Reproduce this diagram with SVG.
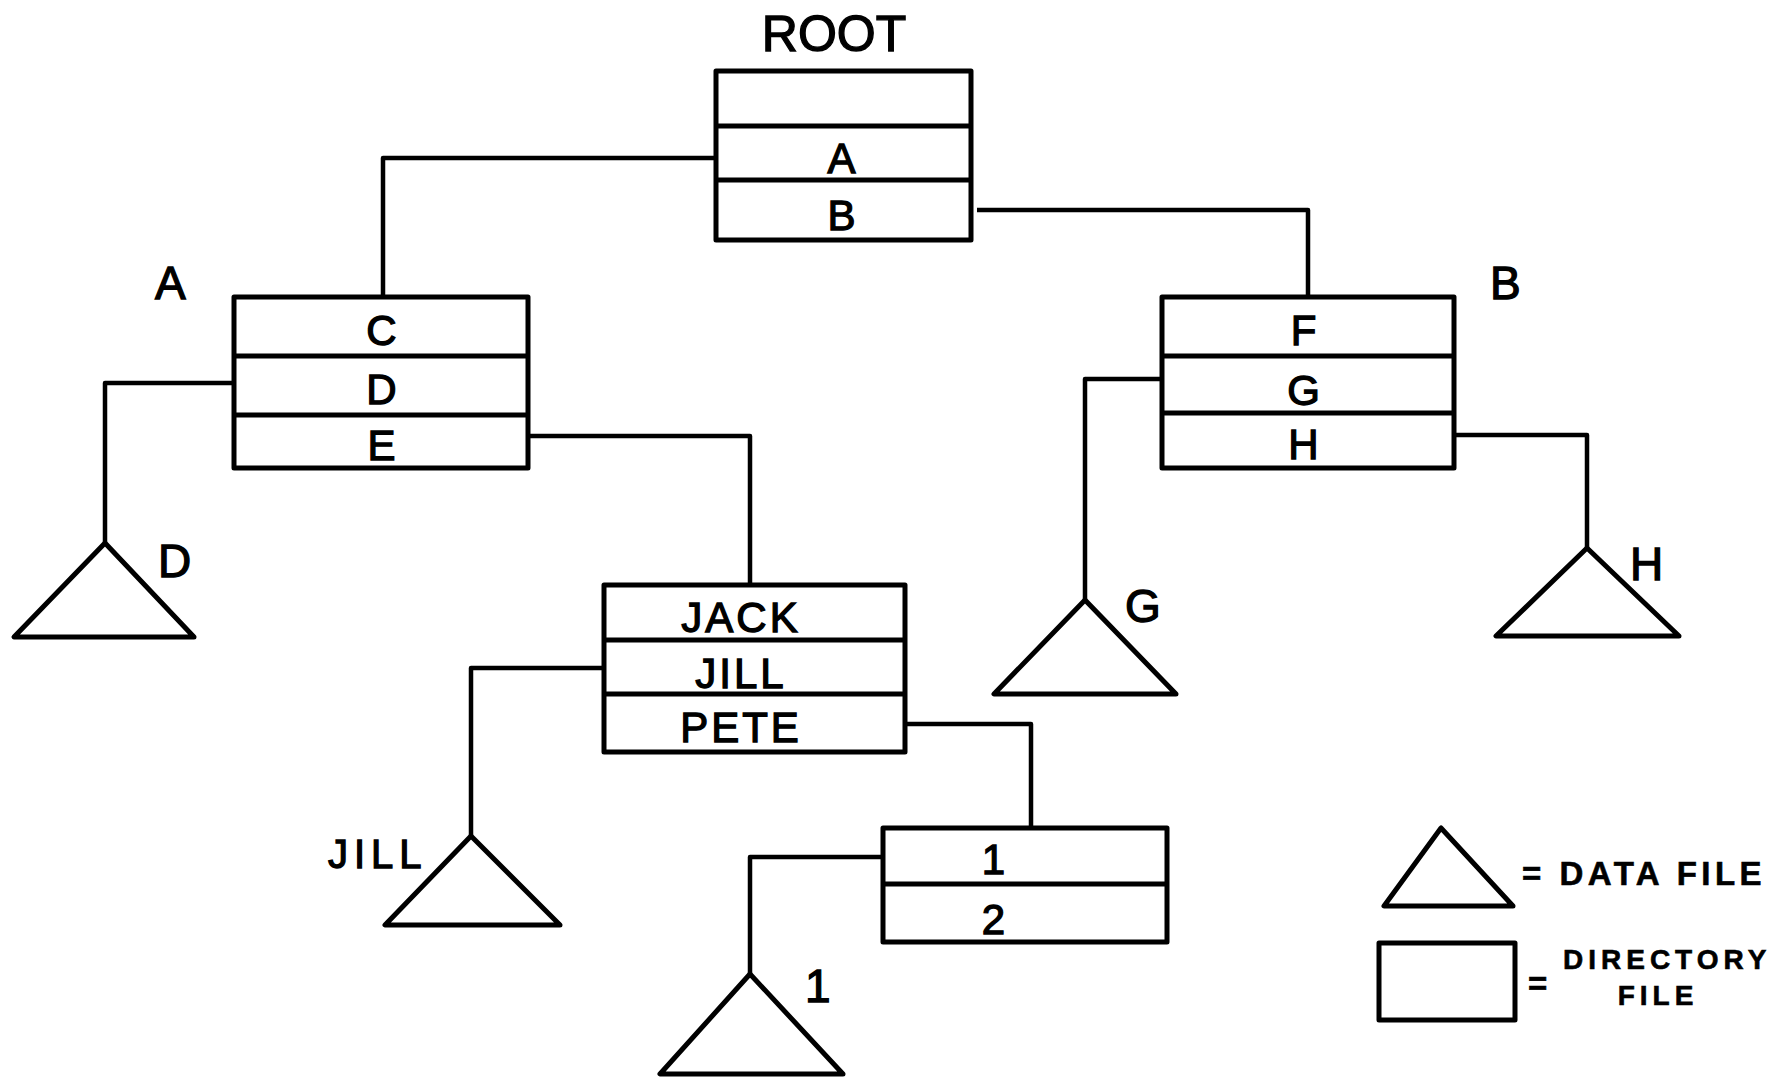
<svg xmlns="http://www.w3.org/2000/svg" width="1791" height="1079" viewBox="0 0 1791 1079">
<style>
.box{fill:none;stroke:#000;stroke-width:5;stroke-linejoin:round}
.div{stroke:#000;stroke-width:5}
.con{fill:none;stroke:#000;stroke-width:4.5;stroke-linejoin:round}
.tri{fill:none;stroke:#000;stroke-width:5;stroke-linejoin:round}
text{font-family:"Liberation Sans",Arial,sans-serif;fill:#000;stroke:#000;stroke-width:1.3}
.in{font-size:42px;text-anchor:middle;letter-spacing:3px}
.lbl{font-size:46px}
.leg{font-size:33px;font-weight:bold;letter-spacing:4.5px;stroke-width:0.6}
.legs{font-size:28px;font-weight:bold;letter-spacing:5px;stroke-width:0.6}
</style>
<rect width="1791" height="1079" fill="#fff"/>
<g id="connectors">
<polyline class="con" points="716,158 383,158 383,297"/>
<polyline class="con" points="977,210 1308,210 1308,297"/>
<polyline class="con" points="234,383 105,383 105,543"/>
<polyline class="con" points="528,436 750,436 750,585"/>
<polyline class="con" points="1162,379 1085,379 1085,600"/>
<polyline class="con" points="1454,435 1587,435 1587,548"/>
<polyline class="con" points="604,668 471,668 471,836"/>
<polyline class="con" points="905,724 1031,724 1031,828"/>
<polyline class="con" points="883,857 750,857 750,974"/>
</g>
<g id="root">
<text x="834" y="51" font-size="50" text-anchor="middle">ROOT</text>
<rect class="box" x="716" y="71" width="255" height="169"/>
<line class="div" x1="716" y1="126" x2="971" y2="126"/>
<line class="div" x1="716" y1="180" x2="971" y2="180"/>
<text class="in" x="843" y="173">A</text>
<text class="in" x="843" y="230">B</text>
</g>
<g id="dirA">
<text class="lbl" x="155" y="299">A</text>
<rect class="box" x="234" y="297" width="294" height="171"/>
<line class="div" x1="234" y1="356" x2="528" y2="356"/>
<line class="div" x1="234" y1="415" x2="528" y2="415"/>
<text class="in" x="383" y="345">C</text>
<text class="in" x="383" y="404">D</text>
<text class="in" x="383" y="460">E</text>
</g>
<g id="dirB">
<text class="lbl" x="1490" y="299">B</text>
<rect class="box" x="1162" y="297" width="292" height="171"/>
<line class="div" x1="1162" y1="356" x2="1454" y2="356"/>
<line class="div" x1="1162" y1="413" x2="1454" y2="413"/>
<text class="in" x="1305" y="345">F</text>
<text class="in" x="1305" y="405">G</text>
<text class="in" x="1305" y="459">H</text>
</g>
<g id="fileD">
<polygon class="tri" points="105,543 14,637 194,637"/>
<text class="lbl" x="158" y="577">D</text>
</g>
<g id="fileG">
<polygon class="tri" points="1085,600 994,694 1176,694"/>
<text class="lbl" x="1125" y="622">G</text>
</g>
<g id="fileH">
<polygon class="tri" points="1587,548 1496,636 1679,636"/>
<text class="lbl" x="1630" y="580">H</text>
</g>
<g id="dirE">
<rect class="box" x="604" y="585" width="301" height="167"/>
<line class="div" x1="604" y1="640" x2="905" y2="640"/>
<line class="div" x1="604" y1="694" x2="905" y2="694"/>
<text class="in" x="741" y="632">JACK</text>
<text class="in" x="741" y="688">JILL</text>
<text class="in" x="741" y="742">PETE</text>
</g>
<g id="fileJILL">
<polygon class="tri" points="471,836 385,925 560,925"/>
<text x="328" y="868" font-size="40" letter-spacing="6">JILL</text>
</g>
<g id="dirPETE">
<rect class="box" x="883" y="828" width="284" height="114"/>
<line class="div" x1="883" y1="884" x2="1167" y2="884"/>
<text class="in" x="995" y="874">1</text>
<text class="in" x="995" y="934">2</text>
</g>
<g id="file1">
<polygon class="tri" points="750,974 660,1074 843,1074"/>
<text class="lbl" x="805" y="1002" font-size="40">1</text>
</g>
<g id="legend">
<polygon class="tri" points="1441,828 1384,906 1513,906"/>
<text class="leg" x="1522" y="885">= DATA FILE</text>
<rect class="box" x="1379" y="943" width="136" height="77"/>
<text class="leg" x="1528" y="995">=</text>
<text class="legs" x="1563" y="969">DIRECTORY</text>
<text class="legs" x="1658" y="1005" text-anchor="middle">FILE</text>
</g>
</svg>
